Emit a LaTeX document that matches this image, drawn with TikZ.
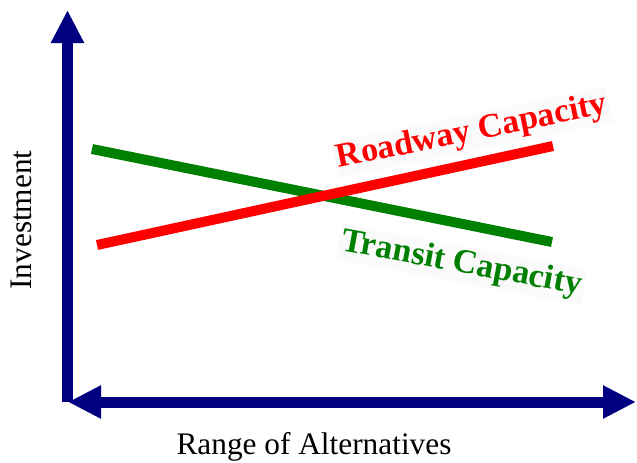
\documentclass[tikz,border=0pt]{standalone}
\usepackage{fontspec}
\setmainfont{Liberation Serif}
\usetikzlibrary{arrows.meta}

\definecolor{axisblue}{RGB}{0,0,128}
\definecolor{roadred}{RGB}{255,0,0}
\definecolor{transitgreen}{RGB}{0,128,0}

\begin{document}
\begin{tikzpicture}[x=0.75pt,y=-0.75pt,
  axis/.style={draw=axisblue,line width=8.25pt},
  trend/.style={line width=7.5pt},
  caplabel/.style={font=\bfseries\fontsize{25.5}{30}\selectfont,fill=black!2,inner sep=2pt},
  axislabel/.style={font=\fontsize{23.5}{28}\selectfont,inner sep=0pt}]
\useasboundingbox (0,0) rectangle (637,462);

% axes
\coordinate (origin) at (67.5,402);
\coordinate (ytop) at (67.5,10);
\coordinate (xleft) at (68,402);
\coordinate (xright) at (636,402);
\draw[axis,-{Triangle[length=24.75pt,width=23.25pt]}] (origin) -- (ytop);
\draw[axis,{Triangle[length=24.75pt,width=23.25pt]}-{Triangle[length=24.75pt,width=23.25pt]}] (xleft) -- (xright);

% the two trends
\coordinate (transitA) at (92,149);
\coordinate (transitB) at (552,242);
\coordinate (roadA) at (97,245);
\coordinate (roadB) at (553,146);
\draw[trend,draw=transitgreen] (transitA) -- (transitB);
\draw[trend,draw=roadred] (roadA) -- (roadB);

\node[caplabel,text=roadred,rotate=11.5] (roadway) at (472,132.5) {Roadway Capacity};
\node[caplabel,text=transitgreen,rotate=-10.5] (transit) at (461.5,264.5) {Transit Capacity};

\node[axislabel,rotate=90] (ylabel) at (21.8,220) {Investment};
\node[axislabel] (xlabel) at (314,447) {Range of Alternatives};
\end{tikzpicture}
\end{document}
